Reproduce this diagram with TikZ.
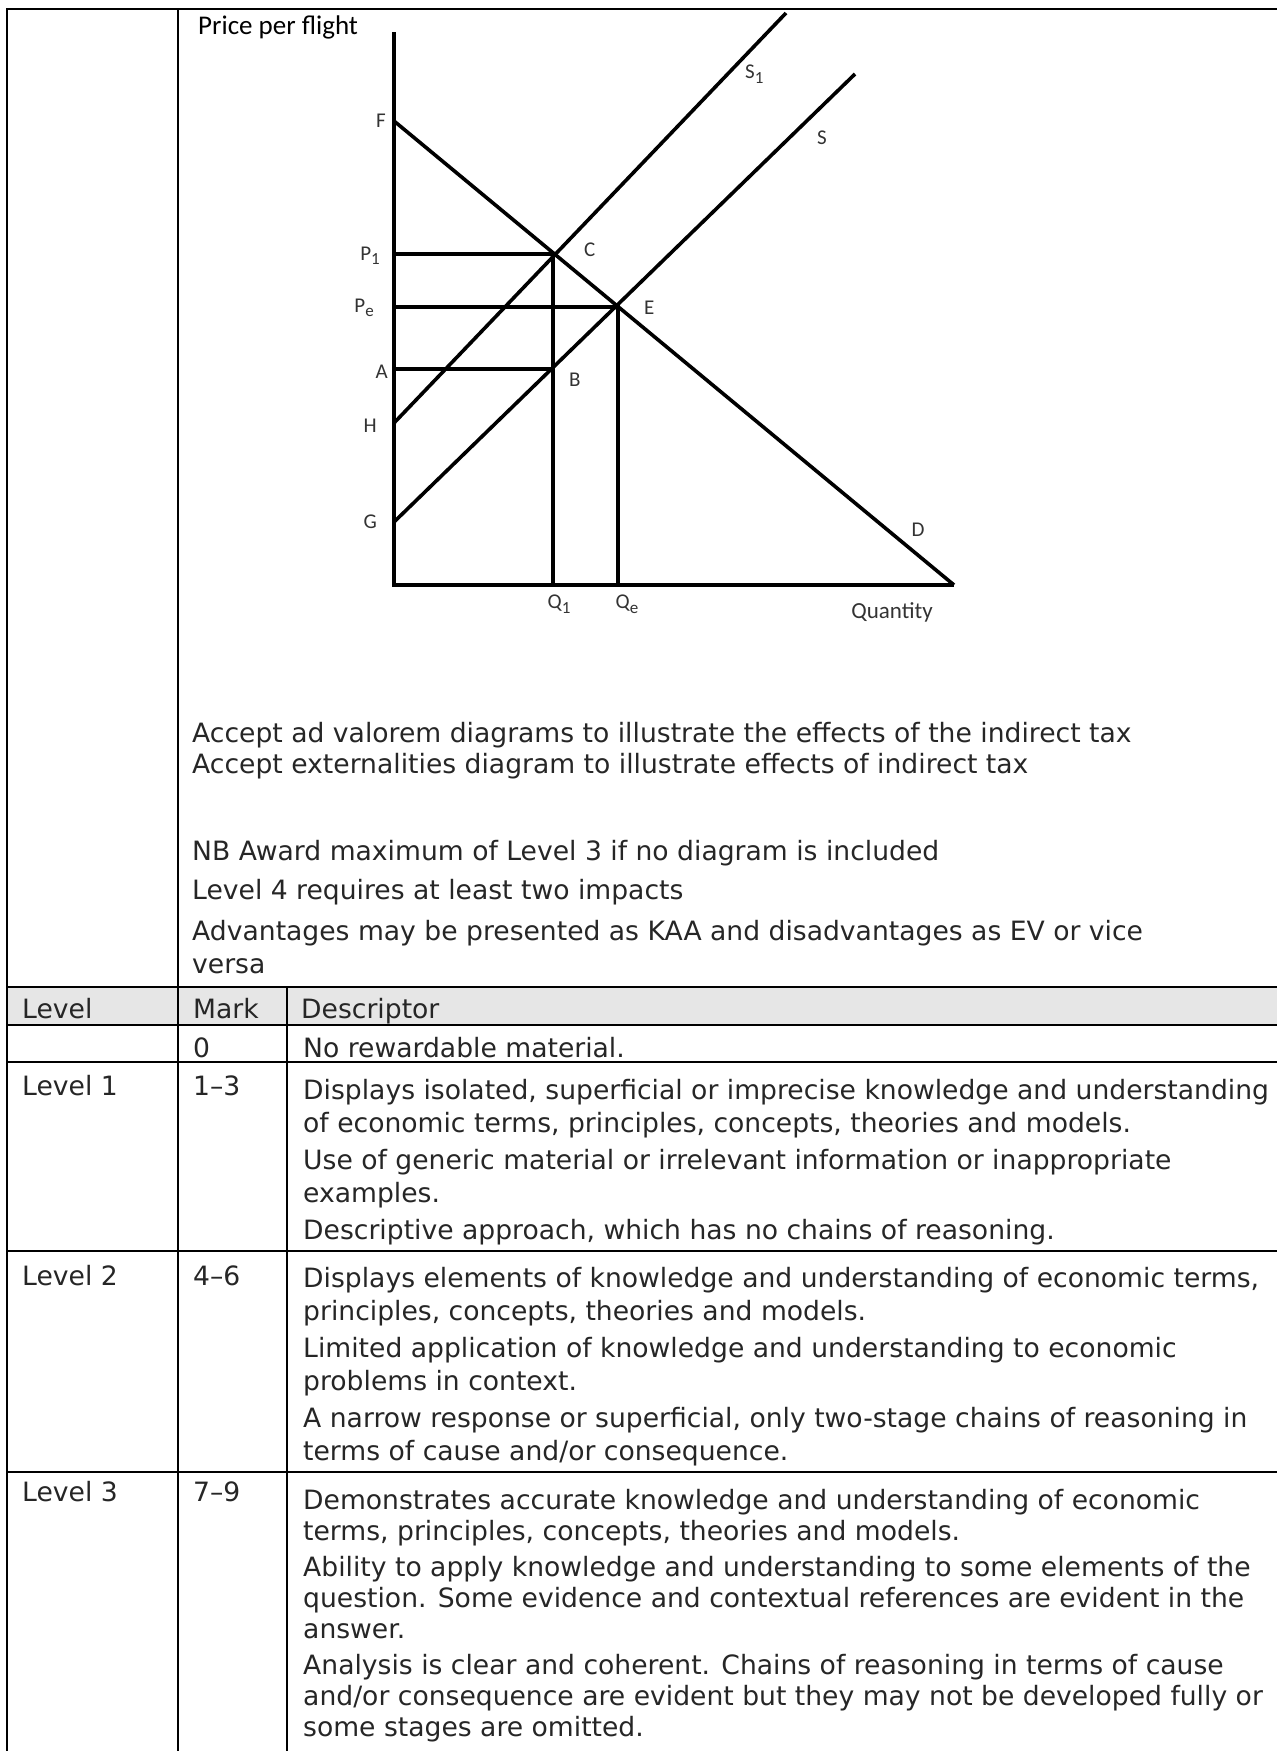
\documentclass[tikz,border=0pt]{standalone}
\usepackage{fontspec}
\setmainfont{DejaVu Sans}
\newfontfamily\graphfont{Carlito}
\usetikzlibrary{positioning,calc}
\definecolor{headgray}{HTML}{E6E6E6}
\definecolor{ink}{HTML}{262626}
\newcommand{\lowsub}[1]{\raisebox{-0.45ex}{\fontsize{17}{17}\selectfont #1}}
\tikzset{
  rule/.style={line width=2.6pt,black},
  curve/.style={line width=3.6pt,black},
  lbl/.style={inner sep=0pt,font=\graphfont\fontsize{21}{21}\selectfont,text=black!80},
  % anchored at the baseline of the last line
  cell/.style={anchor=base west,inner sep=0pt,align=left,
    font=\fontsize{26.6}{33}\selectfont,text=ink},
}
\begin{document}
\begin{tikzpicture}[x=1pt,y=-1pt]
  \useasboundingbox (0,0) rectangle (1277,1751);

  % table frame
  \fill[headgray] (7,987) rectangle (1277,1025);
  \draw[rule] (7,9) -- (1277,9);
  \draw[rule] (7,8) -- (7,1751);
  \draw[rule] (178,8) -- (178,1751);
  \draw[rule] (287,987) -- (287,1751);
  \foreach \yy in {987,1025,1062,1251,1472}
    \draw[rule] (7,\yy) -- (1277,\yy);

  % supply and demand graph
  \coordinate (top) at (394,32);
  \coordinate (O) at (394,585);
  \coordinate (F) at (394,121);
  \coordinate (Dend) at (954,585);
  \coordinate (G) at (394,522);
  \coordinate (Send) at (855,74);
  \coordinate (H) at (394,423);
  \coordinate (S1end) at (786,13);
  \coordinate (C) at (553,254);
  \coordinate (E) at (618,307);
  \coordinate (B) at (553,369);

  \draw[curve,line join=miter] (top) -- (O) -- (Dend);
  \draw[curve] (F) -- (Dend);
  \draw[curve] (G) -- (Send);
  \draw[curve] (H) -- (S1end);
  \draw[curve] (O |- C) -- (C) -- (C |- O);
  \draw[curve] (O |- E) -- (E) -- (E |- O);
  \draw[curve] (O |- B) -- (B);

  \node[inner sep=0pt,anchor=west,font=\graphfont\fontsize{27}{27}\selectfont]
    (ylab) at (198,27) {Price per flight};
  \node[lbl,left=8pt of F] (lF) {F};
  \node[lbl,anchor=east] (lP1) at ($(O |- C)+(-14,2)$) {P\lowsub{1}};
  \node[lbl,anchor=east] (lPe) at ($(O |- E)+(-20,1)$) {P\lowsub{e}};
  \node[lbl,anchor=east] (lA) at ($(O |- B)+(-6,3)$) {A};
  \node[lbl,left=17pt of H,yshift=-3pt] (lH) {H};
  \node[lbl,left=17pt of G] (lG) {G};
  \node[lbl,anchor=west] (lC) at ($(C)+(31,-4)$) {C};
  \node[lbl,anchor=west] (lE) at ($(E)+(26,1)$) {E};
  \node[lbl,anchor=west] (lB) at ($(B)+(16,11)$) {B};
  \node[lbl] (lD) at (918,530) {D};
  \node[lbl] (lS) at (822,138) {S};
  \node[lbl,anchor=west] (lS1) at (745,74) {S\lowsub{1}};
  \node[lbl] (lQ1) at (559,604) {Q\lowsub{1}};
  \node[lbl] (lQe) at (627,604) {Q\lowsub{e}};
  \node[lbl,font=\graphfont\fontsize{23}{23}\selectfont] (lQ) at (892,612) {Quantity};

  % notes under the graph
  \node[cell] (acc) at (192,773) {Accept ad valorem diagrams to illustrate the effects of the indirect tax\\[-2pt]
    Accept externalities diagram to illustrate effects of indirect tax};
  \node[cell] (nb) at (192,860) {NB Award maximum of Level 3 if no diagram is included};
  \node[cell] (lvfour) at (192,899) {Level 4 requires at least two impacts};
  \node[cell] (adv) at (192,973) {Advantages may be presented as KAA and disadvantages as EV or vice\\
    versa};

  % header row
  \node[cell] (hlevel) at (22,1018) {Level};
  \node[cell] (hmark) at (193,1018) {Mark};
  \node[cell] (hdesc) at (301,1018) {Descriptor};

  % mark 0
  \node[cell] (mzero) at (193,1057) {0};
  \node[cell] (dzero) at (303,1057) {No rewardable material.};

  % level 1
  \node[cell] (lvone) at (22,1095) {Level 1};
  \node[cell] (mone) at (193,1095) {1–3};
  \node[cell] (done) at (303,1239) {Displays isolated, superficial or imprecise knowledge and understanding\\
    of economic terms, principles, concepts, theories and models.\\[4pt]
    Use of generic material or irrelevant information or inappropriate\\
    examples.\\[4pt]
    Descriptive approach, which has no chains of reasoning.};

  % level 2
  \node[cell] (lvtwo) at (22,1285) {Level 2};
  \node[cell] (mtwo) at (193,1285) {4–6};
  \node[cell] (dtwo) at (303,1460) {Displays elements of knowledge and understanding of economic terms,\\
    principles, concepts, theories and models.\\[4pt]
    Limited application of knowledge and understanding to economic\\
    problems in context.\\[4pt]
    A narrow response or superficial, only two-stage chains of reasoning in\\
    terms of cause and/or consequence.};

  % level 3
  \node[cell] (lvthree) at (22,1501) {Level 3};
  \node[cell] (mthree) at (193,1501) {7–9};
  \node[cell,font=\fontsize{26.6}{31}\selectfont] (dthree) at (303,1736)
    {Demonstrates accurate knowledge and understanding of economic\\
    terms, principles, concepts, theories and models.\\[5pt]
    Ability to apply knowledge and understanding to some elements of the\\
    question. Some evidence and contextual references are evident in the\\
    answer.\\[5pt]
    Analysis is clear and coherent. Chains of reasoning in terms of cause\\
    and/or consequence are evident but they may not be developed fully or\\
    some stages are omitted.};
\end{tikzpicture}
\end{document}
